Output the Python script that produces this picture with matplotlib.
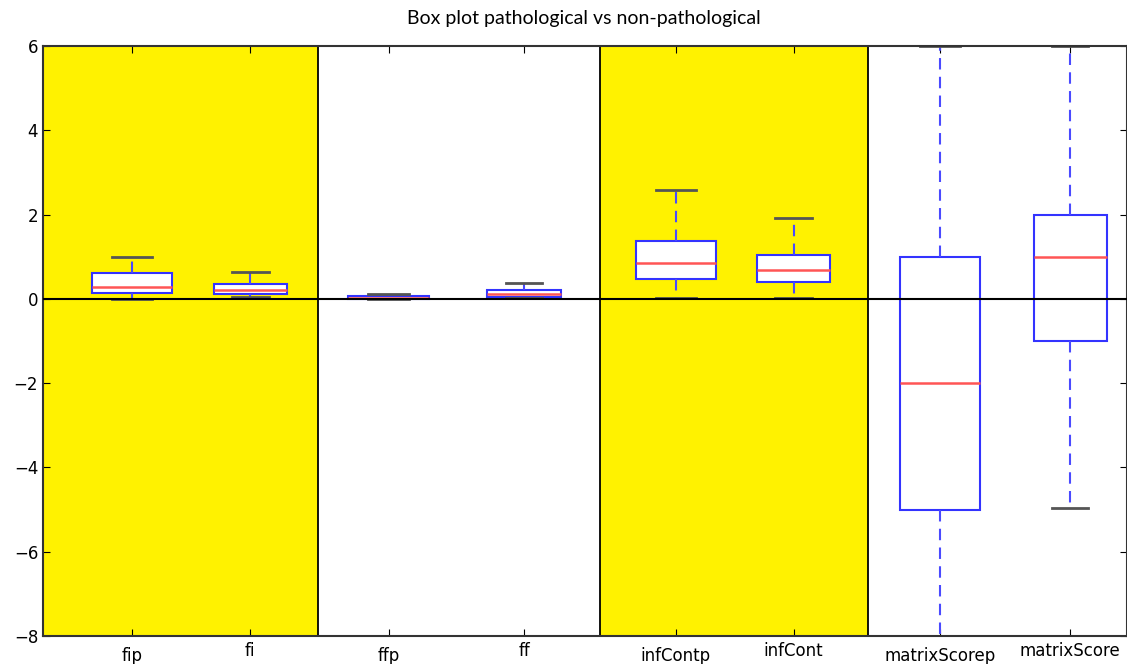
import matplotlib
matplotlib.use("Agg")
import matplotlib.pyplot as plt

# box stats
labels = ["fip", "fi", "ffp", "ff", "infContp", "infCont", "matrixScorep", "matrixScore"]
q1 = [0.13, 0.11, 0.00, 0.04, 0.47, 0.40, -5.0, -1.0]
med = [0.28, 0.21, 0.03, 0.11, 0.84, 0.68, -2.0, 1.0]
q3 = [0.61, 0.35, 0.07, 0.20, 1.38, 1.04, 1.0, 2.0]
whislo = [0.0, 0.04, 0.0, 0.01, 0.01, 0.02, -8.0, -4.96]
whishi = [0.99, 0.63, 0.12, 0.37, 2.59, 1.91, 6.0, 6.0]

positions = [0.66, 1.53, 2.55, 3.55, 4.67, 5.54, 6.62, 7.58]
widths = [0.59, 0.54, 0.6, 0.54, 0.59, 0.54, 0.59, 0.54]
separators = [2.03, 4.11, 6.09]
yellow_groups = [(0, 2.03), (4.11, 6.09)]

stats = []
for i in range(len(labels)):
    stats.append(dict(label=labels[i], q1=q1[i], med=med[i], q3=q3[i],
                      whislo=whislo[i], whishi=whishi[i], fliers=[]))

fig = plt.figure(figsize=(11.27, 6.64), dpi=100)
ax = fig.add_axes([43 / 1127, 1 - 636 / 664, 1 - 43 / 1127, 590 / 664])

for x0, x1 in yellow_groups:
    ax.axvspan(x0, x1, color="#fff200", zorder=0, lw=0)
for s in separators:
    ax.axvline(s, color="black", lw=1.3, zorder=1)
ax.axhline(0, color="black", lw=1.5, zorder=3)

ax.bxp(stats, positions=positions, widths=widths, patch_artist=True,
       boxprops=dict(facecolor="white", edgecolor="#3333ff", lw=1.5),
       medianprops=dict(color="#ff5555", lw=1.8),
       whiskerprops=dict(color="#4a4aff", lw=1.5, ls="--", dashes=(5.5, 3.5)),
       capprops=dict(color="#555555", lw=2),
       zorder=2)

ax.set_xlim(0, 8)
ax.set_ylim(-8, 6)
ax.set_yticks([-8, -6, -4, -2, 0, 2, 4, 6])
ax.set_yticklabels(["\u22128", "\u22126", "\u22124", "\u22122", "0", "2", "4", "6"])
ax.set_xticks(positions)
ax.set_xticklabels(labels)
ax.tick_params(direction="in", labelsize=12, top=True, right=True, length=5)
ax.tick_params(axis="x", pad=8)
# second label of each pair sits a little higher in the original
for j, t in enumerate(ax.get_xticklabels()):
    if j % 2 == 1:
        t.set_y(0.008)
for sp in ax.spines.values():
    sp.set_color("#333333")
    sp.set_linewidth(1.5)

fig.text(0.518, 0.972, "Box plot pathological vs non-pathological",
         ha="center", va="center", fontsize=14, family="Lato")

fig.savefig("out.png", dpi=100)
